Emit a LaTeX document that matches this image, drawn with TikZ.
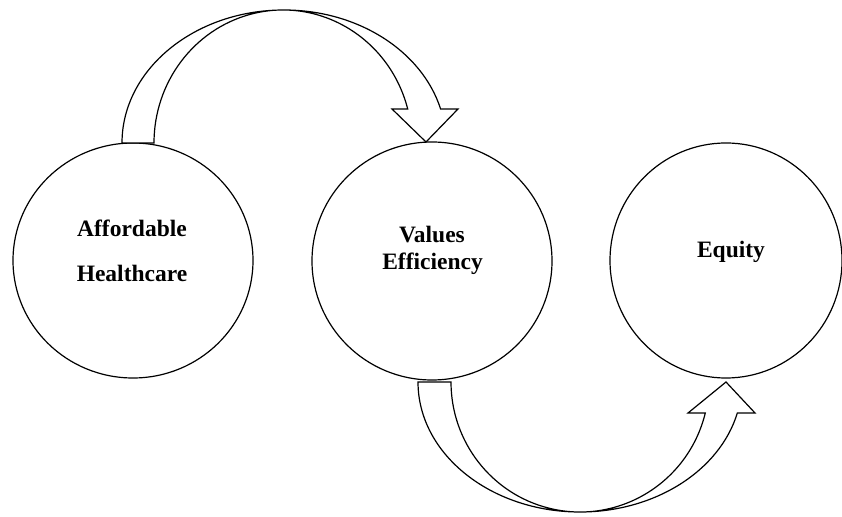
\documentclass[tikz,border=0pt]{standalone}
\usepackage{fontspec}
\setmainfont{Liberation Serif}
\usetikzlibrary{shapes.geometric,calc}
\begin{document}
\begin{tikzpicture}[x=1pt,y=1pt,
  bubble/.style={ellipse, draw=black, line width=1.2pt, inner sep=0pt},
  lbl/.style={anchor=base, font=\fontsize{23.5}{28}\selectfont\bfseries, inner sep=0pt},
  blockarrow/.style={draw=black, fill=white, line width=1.2pt, line join=miter}]
\useasboundingbox (0,0) rectangle (842,516);
% circles
\node[bubble, minimum width=240pt, minimum height=235pt] (aff) at (133,255.5) {};
\node[bubble, minimum width=240pt, minimum height=238pt] (val) at (432,255) {};
\node[bubble, minimum width=232pt, minimum height=235pt] (equ) at (726,255.5) {};
% labels
\node[lbl] (t1) at (132,279) {Affordable};
\node[lbl] (t2) at (132,234) {Healthcare};
\node[lbl] (t3) at (432,273) {Values};
\node[lbl] (t4) at (432.5,246) {Efficiency};
\node[lbl] (t5) at (731,258) {Equity};
% top curved arrow (affordable -> values)
\coordinate (c1) at (283,373);
\path[blockarrow] (122,373)
  arc[start angle=180, end angle=14.8, x radius=162, y radius=133]
  -- (458,407) -- (426,374) -- (392,407)
  -- ($(c1)+(14.8:129 and 133)$)
  arc[start angle=14.8, end angle=180, x radius=129, y radius=133]
  -- cycle;
% bottom curved arrow (values -> equity)
\coordinate (c2) at (580,134);
\path[blockarrow] (418,134)
  arc[start angle=180, end angle=346.2, x radius=162, y radius=130]
  -- (755,103) -- (726,134) -- (688,103)
  -- ($(c2)+(346.2:129 and 130)$)
  arc[start angle=346.2, end angle=180, x radius=129, y radius=130]
  -- cycle;
\end{tikzpicture}
\end{document}
